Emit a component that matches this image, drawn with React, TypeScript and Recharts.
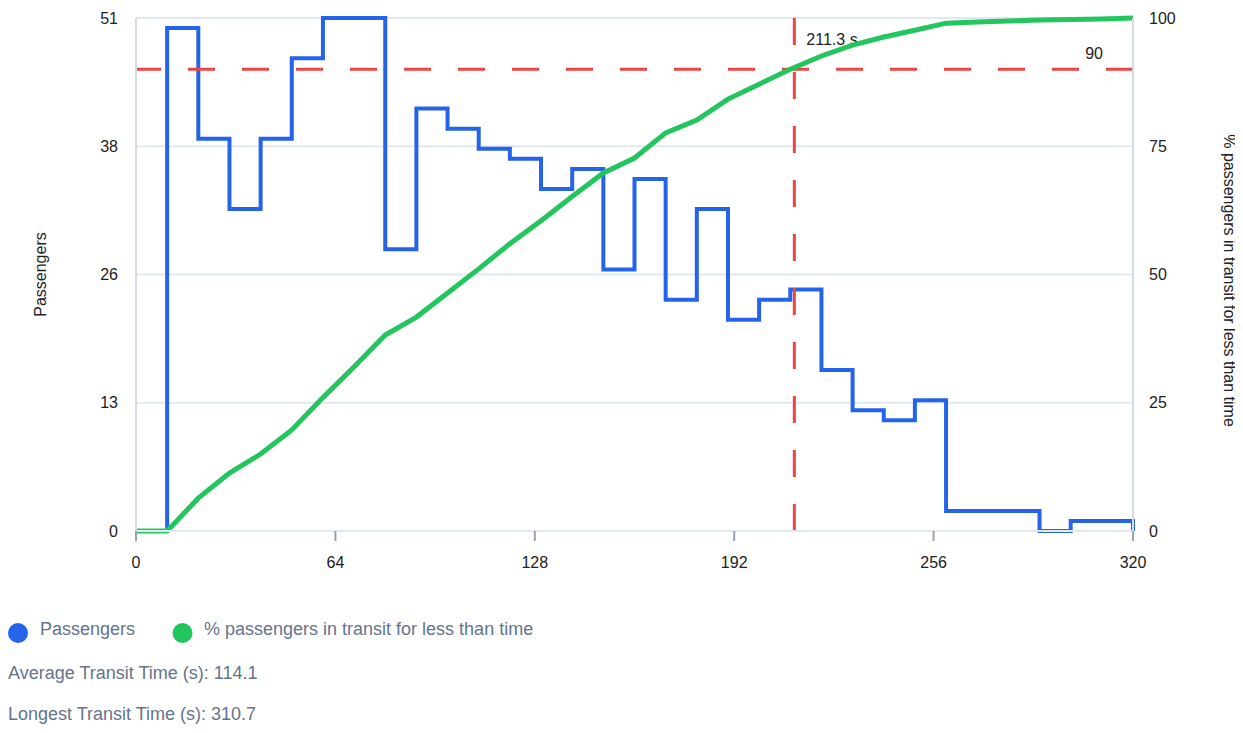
import React from "react";
import {
  ComposedChart,
  Line,
  XAxis,
  YAxis,
  CartesianGrid,
  ReferenceLine,
} from "recharts";

// Transit time bins (s)
const times = [
  0, 10, 20, 30, 40, 50, 60, 70, 80, 90, 100, 110, 120, 130, 140, 150, 160,
  170, 180, 190, 200, 210, 220, 230, 240, 250, 260, 270, 280, 290, 300, 310, 320,
];
// Passengers per bin
const passengers = [
  0, 50, 39, 32, 39, 47, 51, 51, 28, 42, 40, 38, 37, 34, 36, 26, 35, 23, 32, 21,
  23, 24, 16, 12, 11, 13, 2, 2, 2, 0, 1, 1, 0,
];
// % passengers in transit for less than time
const pctUnder = [
  0, 0, 6.4, 11.3, 15, 19.7, 26, 32, 38.2, 41.7, 46.4, 51.1, 56, 60.5, 65.2,
  69.8, 72.7, 77.6, 80.1, 84.2, 87.1, 90, 92.6, 94.7, 96.3, 97.6, 99, 99.2, 99.4,
  99.6, 99.7, 99.8, 100,
];

const xTicks = [0, 64, 128, 192, 256, 320];
const leftTicks = [0, 12.75, 25.5, 38.25, 51];
const rightTicks = [0, 25, 50, 75, 100];

const percentileValue = 90;
const percentileTime = 211.3;
const averageTransit = 114.1;
const longestTransit = 310.7;

const seriesNames = ["Passengers", "% passengers in transit for less than time"];

const data = times.map((t, i) => ({
  t,
  passengers: passengers[i],
  pct: pctUnder[i],
}));

const BLUE = "#2563eb";
const GREEN = "#22c55e";
const RED = "#ef4444";
const GRID = "#e2e8f0";
const AXIS = "#d3dbe6";
const TICK = "#94a3b8";
const TEXT = "#222222";
const MUTED = "#64748b";
const FONT = "'Liberation Sans', Arial, Helvetica, sans-serif";

const getVB = (p: any) => p?.viewBox ?? { x: 0, y: 0, width: 0, height: 0 };

const TimeLabel = (p: any) => {
  const vb = getVB(p);
  return (
    <text x={vb.x + 12} y={vb.y + 27} fill={TEXT} fontSize={16} textAnchor="start">
      {`${percentileTime} s`}
    </text>
  );
};

const PctLabel = (p: any) => {
  const vb = getVB(p);
  return (
    <text x={vb.x + vb.width - 30} y={vb.y - 10} fill={TEXT} fontSize={16} textAnchor="end">
      {`${percentileValue}`}
    </text>
  );
};

const LeftTitle = (p: any) => {
  const vb = getVB(p);
  const cx = vb.x + 32;
  const cy = vb.y + vb.height / 2;
  return (
    <text
      x={cx}
      y={cy}
      fill={TEXT}
      fontSize={16}
      textAnchor="middle"
      dominantBaseline="central"
      transform={`rotate(-90 ${cx} ${cy})`}
    >
      {seriesNames[0]}
    </text>
  );
};

const RightTitle = (p: any) => {
  const vb = getVB(p);
  const cx = vb.x + 96;
  const cy = vb.y + vb.height / 2 + 6;
  return (
    <text
      x={cx}
      y={cy}
      fill={TEXT}
      fontSize={16}
      textAnchor="middle"
      dominantBaseline="central"
      transform={`rotate(90 ${cx} ${cy})`}
    >
      {seriesNames[1]}
    </text>
  );
};

export default function App() {
  return (
    <div
      style={{
        position: "relative",
        width: 1227,
        height: 717,
        fontFamily: FONT,
      }}
    >
      <style>{`.recharts-surface { overflow: visible; }`}</style>
      <ComposedChart
        width={1227}
        height={590}
        data={data}
        margin={{ top: 10, right: 0, left: 0, bottom: 0 }}
      >
        <CartesianGrid
          yAxisId="left"
          vertical={false}
          stroke={GRID}
          strokeWidth={2}
        />
        <XAxis
          dataKey="t"
          type="number"
          domain={[0, 320]}
          ticks={xTicks}
          height={67}
          axisLine={{ stroke: GRID, strokeWidth: 2 }}
          tickLine={{ stroke: TICK, strokeWidth: 2 }}
          tickSize={10}
          tickMargin={16}
          tick={{ fill: TEXT, fontSize: 16 }}
        />
        <YAxis
          yAxisId="left"
          orientation="left"
          width={128}
          domain={[0, 51]}
          ticks={leftTicks}
          tickFormatter={(v: number) => `${Math.round(v)}`}
          axisLine={{ stroke: AXIS, strokeWidth: 2 }}
          tickLine={false}
          tickSize={6}
          tickMargin={12}
          tick={{ fill: TEXT, fontSize: 16 }}
          label={{ content: LeftTitle } as any}
        />
        <YAxis
          yAxisId="right"
          orientation="right"
          width={102}
          domain={[0, 100]}
          ticks={rightTicks}
          axisLine={{ stroke: AXIS, strokeWidth: 2 }}
          tickLine={false}
          tickSize={6}
          tickMargin={10}
          tick={{ fill: TEXT, fontSize: 16 }}
          label={{ content: RightTitle } as any}
        />
        <Line
          yAxisId="left"
          type="stepAfter"
          dataKey="passengers"
          name={seriesNames[0]}
          stroke={BLUE}
          strokeWidth={4}
          dot={false}
          activeDot={false}
          isAnimationActive={false}
        />
        <ReferenceLine
          yAxisId="right"
          y={percentileValue}
          stroke={RED}
          strokeWidth={3}
          strokeDasharray="27 27"
          label={PctLabel as any}
        />
        <ReferenceLine
          yAxisId="right"
          x={percentileTime}
          stroke={RED}
          strokeWidth={3}
          strokeDasharray="27 27"
          label={TimeLabel as any}
        />
        <Line
          yAxisId="right"
          type="linear"
          dataKey="pct"
          name={seriesNames[1]}
          stroke={GREEN}
          strokeWidth={5}
          dot={false}
          activeDot={false}
          isAnimationActive={false}
        />
      </ComposedChart>
      <svg
        width={1227}
        height={127}
        style={{ position: "absolute", left: 0, top: 590 }}
        fontFamily={FONT}
      >
        <circle cx={10} cy={35} r={10} fill={BLUE} />
        <text x={32} y={36.5} fontSize={18} fill={MUTED}>
          {seriesNames[0]}
        </text>
        <circle cx={174.5} cy={35} r={10} fill={GREEN} />
        <text x={196} y={36.5} fontSize={18} fill={MUTED}>
          {seriesNames[1]}
        </text>
        <text x={0} y={81} fontSize={18} fill={MUTED}>
          {`Average Transit Time (s): ${averageTransit}`}
        </text>
        <text x={0} y={122} fontSize={18} fill={MUTED}>
          {`Longest Transit Time (s): ${longestTransit}`}
        </text>
      </svg>
    </div>
  );
}
